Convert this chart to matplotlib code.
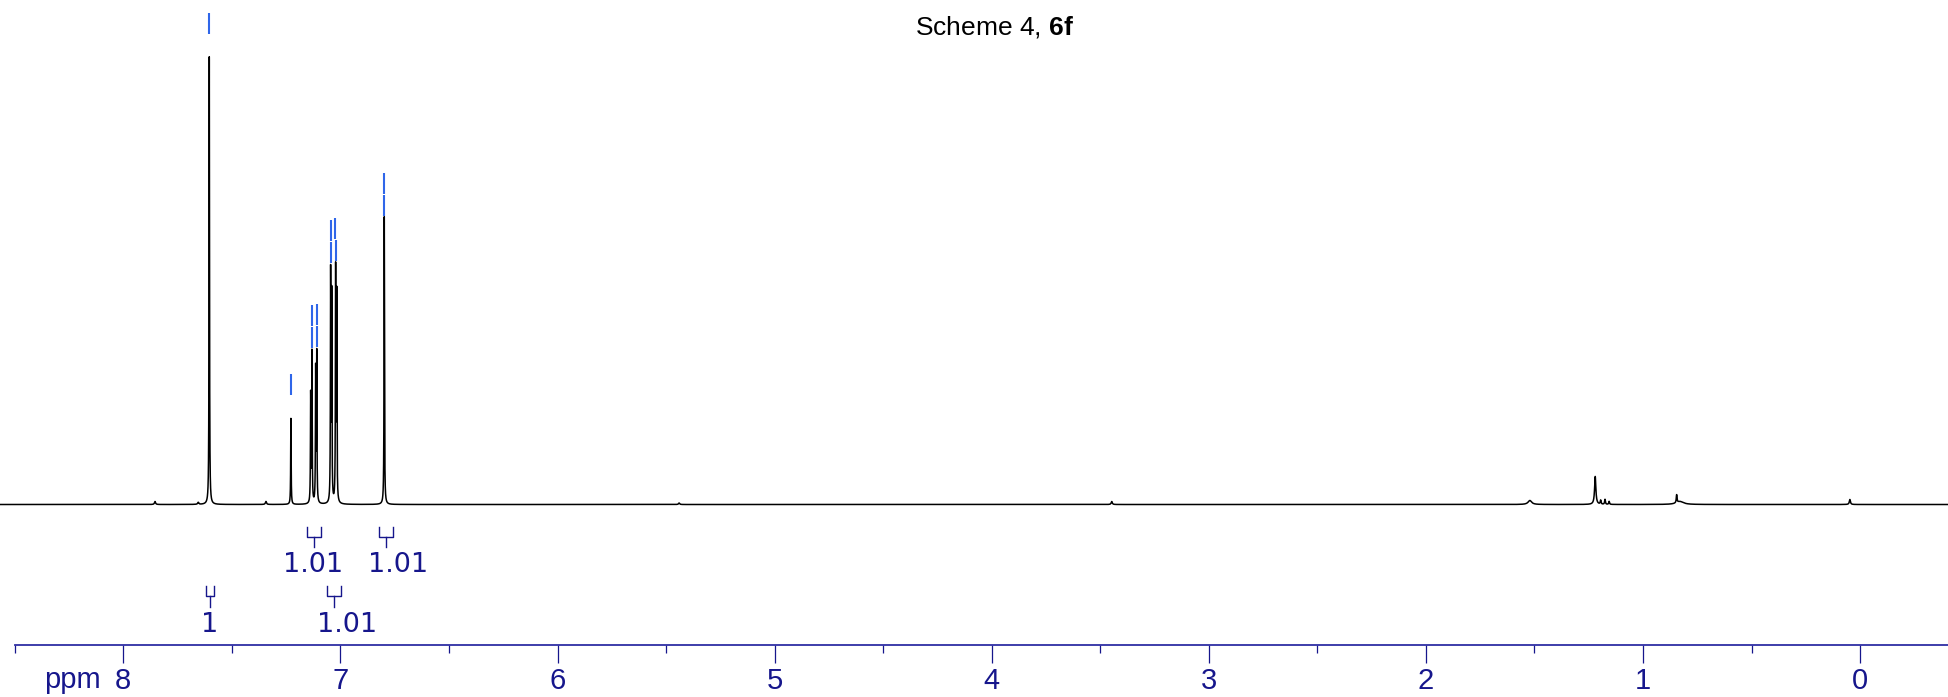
import numpy as np
import matplotlib
matplotlib.use("Agg")
import matplotlib.pyplot as plt
from matplotlib.ticker import MultipleLocator, FixedFormatter, FixedLocator

plt.rcParams['mathtext.fontset'] = 'custom'
plt.rcParams['mathtext.rm'] = 'Liberation Sans'
plt.rcParams['mathtext.bf'] = 'Liberation Sans:bold'

# peaks: position (ppm), height (intensity), half width (ppm)
peak_ppm = [7.854, 7.655, 7.604, 7.343, 7.228, 7.137, 7.131, 7.114, 7.109,
            7.045, 7.040, 7.022, 7.017, 6.798, 5.44, 3.447, 1.521, 1.220,
            1.195, 1.175, 1.156, 0.845, 0.830, 0.047]
peak_height = [3, 2, 448, 3, 86, 108, 150, 132, 148,
               228, 205, 230, 205, 288, 1.5, 3, 4, 28,
               4, 5, 3, 8, 3, 5]
peak_width = [0.003, 0.003, 0.0012, 0.003, 0.0012, 0.0012, 0.0012, 0.0012, 0.0012,
              0.0012, 0.0012, 0.0012, 0.0012, 0.0012, 0.003, 0.003, 0.01, 0.0035,
              0.002, 0.002, 0.002, 0.002, 0.02, 0.003]

# picked peaks (blue marks)
picked_ppm = [7.604, 7.228, 7.132, 7.130, 7.110, 7.108, 7.045, 7.043,
              7.023, 7.021, 6.799, 6.797]

# integrals: region (ppm), value, row
int_left = [7.155, 6.822, 7.619, 7.062]
int_right = [7.091, 6.758, 7.582, 6.998]
int_value = ["1.01", "1.01", "1", "1.01"]
int_row = [0, 0, 1, 1]
int_label_ppm = [7.126, 6.735, 7.601, 6.970]

major_ticks = [8, 7, 6, 5, 4, 3, 2, 1, 0]
major_labels = ["8", "7", "6", "5", "4", "3", "2", "1", "0"]

navy = "#16168c"
blue = "#2f66e9"

# build the line from the peak list
ppm = np.linspace(8.6, -0.45, 60000)
spec = np.zeros_like(ppm)
for p, h, g in zip(peak_ppm, peak_height, peak_width):
    spec += h * g**2 / ((ppm - p)**2 + g**2)

fig = plt.figure(figsize=(19.48, 6.97), dpi=100)
ax = fig.add_axes([0, 0, 1, 1])
ax.plot(ppm, spec, color="black", lw=1.1)
ax.set_xlim(8.568, -0.405)
ax.set_ylim(-192.5, 504.5)

# peak pick marks, stacked when two picks sit on the same line
groups = []
for p in picked_ppm:
    if groups and abs(groups[-1][-1] - p) < 0.003:
        groups[-1].append(p)
    else:
        groups.append([p])
for grp in groups:
    centre = np.mean(grp)
    near = (ppm < centre + 0.003) & (ppm > centre - 0.003)
    top = spec[near].max()
    for k, p in enumerate(grp):
        slot = 1 if k == 0 else 0
        y0 = top + 1 + 22 * slot
        ax.plot([p, p], [y0, y0 + 21], color=blue, lw=1.5, solid_capstyle="butt")

# integral brackets
row_y = [(-22.5, -32.5, -42.5, -67.2), (-81, -91, -102.5, -127.2)]
for l, r, v, row, lp in zip(int_left, int_right, int_value, int_row, int_label_ppm):
    top, mid, bot, base = row_y[row]
    c = (l + r) / 2
    ax.plot([l, l, r, r], [top, mid, mid, top], color=navy, lw=1.0)
    ax.plot([c, c], [mid, bot], color=navy, lw=1.0)
    ax.text(lp, base, v, color=navy, fontsize=19.5, family="DejaVu Sans",
            ha="center", va="baseline")

# ppm scale
for s in ["top", "left", "right"]:
    ax.spines[s].set_visible(False)
ax.spines["bottom"].set_position(("data", -140))
ax.spines["bottom"].set_bounds(8.5, -0.405)
ax.spines["bottom"].set_color("#2e2ea4")
ax.spines["bottom"].set_linewidth(1.3)
ax.set_yticks([])
ax.xaxis.set_major_locator(FixedLocator(major_ticks))
ax.xaxis.set_major_formatter(FixedFormatter(major_labels))
ax.xaxis.set_minor_locator(MultipleLocator(0.5))
ax.tick_params(axis="x", which="major", direction="out", length=13, width=0.9,
               color=navy, labelcolor=navy, labelsize=21, pad=3)
ax.tick_params(axis="x", which="minor", direction="out", length=5.4, width=0.9,
               color=navy)
for lab in ax.get_xticklabels():
    lab.set_family("Liberation Sans")
ax.text(8.103, -183.5, "ppm", color=navy, fontsize=21, family="Liberation Sans",
        ha="right", va="baseline")

ax.text(3.985, 470.2, r"Scheme 4, $\mathbf{6f}$", fontsize=19, family="Liberation Sans",
        ha="center", va="baseline")

fig.savefig("out.png", dpi=100)
